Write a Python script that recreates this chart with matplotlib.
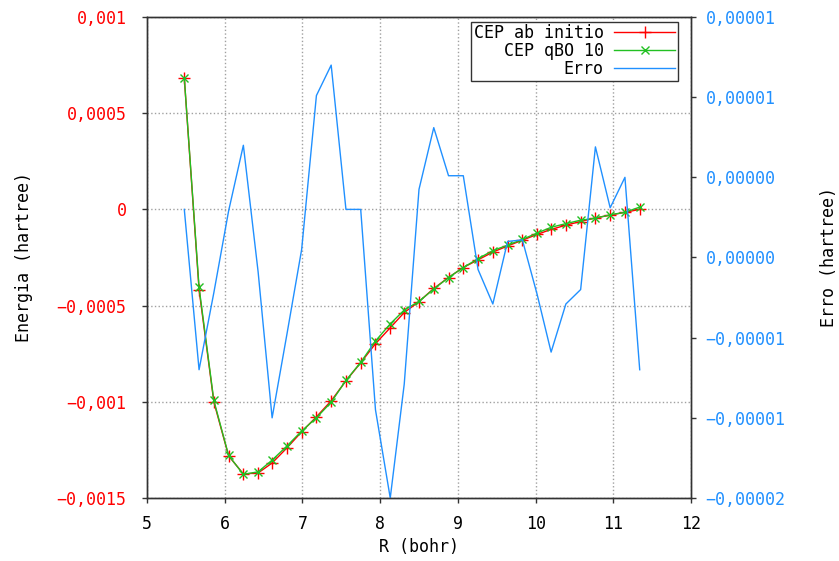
import numpy as np
import matplotlib
matplotlib.use("Agg")
import matplotlib.pyplot as plt

plt.rcParams['font.family'] = ['DejaVu Sans Mono']
plt.rcParams['font.size'] = 12

# R (bohr)
r = [5.48, 5.67, 5.86, 6.05, 6.24, 6.43, 6.61, 6.80, 6.99, 7.18, 7.37, 7.56,
     7.75, 7.94, 8.13, 8.31, 8.50, 8.69, 8.88, 9.07, 9.26, 9.45, 9.64, 9.83,
     10.02, 10.20, 10.39, 10.58, 10.77, 10.96, 11.15, 11.34]

# CEP ab initio (hartree)
e_abinitio = [0.000682, -0.000417, -0.001000, -0.001281, -0.001375, -0.001370,
              -0.001318, -0.001240, -0.001156, -0.001078, -0.000995, -0.000891,
              -0.000797, -0.000698, -0.000615, -0.000536, -0.000479, -0.000411,
              -0.000354, -0.000302, -0.000262, -0.000222, -0.000190, -0.000160,
              -0.000130, -0.000104, -0.000082, -0.000063, -0.000044, -0.000030,
              -0.000015, 0.0]

# CEP qBO 10 (hartree)
e_qbo = [0.000684, -0.000405, -0.000993, -0.001279, -0.001377, -0.001364,
         -0.001303, -0.001230, -0.001152, -0.001083, -0.001002, -0.000889,
         -0.000795, -0.000684, -0.000595, -0.000523, -0.000478, -0.000414,
         -0.000354, -0.000302, -0.000256, -0.000214, -0.000186, -0.000156,
         -0.000123, -0.000093, -0.000074, -0.000056, -0.000046, -0.000028,
         -0.000015, 0.000012]

# Erro (hartree)
erro = [-2.0e-6, -1.2e-5, -7.2e-6, -2.1e-6, 2.0e-6, -5.9e-6, -1.5e-5, -9.8e-6,
        -4.5e-6, 5.1e-6, 7.0e-6, -2.0e-6, -2.0e-6, -1.45e-5, -2.0e-5, -1.29e-5,
        -0.75e-6, 3.1e-6, 0.1e-6, 0.1e-6, -5.75e-6, -7.9e-6, -4.0e-6, -3.9e-6,
        -7.3e-6, -1.09e-5, -7.9e-6, -7.0e-6, 1.9e-6, -1.9e-6, 0.0, -1.2e-5]

xticks = [5, 6, 7, 8, 9, 10, 11, 12]
yticks_left = [-0.0015, -0.001, -0.0005, 0, 0.0005, 0.001]
ylabels_left = ['\u22120,0015', '\u22120,001', '\u22120,0005', '0', '0,0005', '0,001']
yticks_right = [-2e-5, -1.5e-5, -1e-5, -5e-6, 0, 5e-6, 1e-5]
ylabels_right = ['\u22120,00002', '\u22120,00001', '\u22120,00001', '0,00000',
                 '0,00000', '0,00001', '0,00001']

red = '#ff0000'
green = '#22c022'
blue = '#2090ff'

fig = plt.figure(figsize=(8.39, 5.61), dpi=100)
ax = fig.add_axes([0.1752, 0.1123, 0.6484, 0.8574])
l1, = ax.plot(r, e_abinitio, color=red, lw=1.0, marker='+', ms=8, mew=1.0,
              label='CEP ab initio')
l2, = ax.plot(r, e_qbo, color=green, lw=1.0, marker='x', ms=6, mew=1.0,
              label='CEP qBO 10')
ax.set_xlim(5, 12)
ax.set_ylim(-0.0015, 0.001)
ax.set_xticks(xticks)
ax.set_yticks(yticks_left)
ax.set_yticklabels(ylabels_left)
ax.tick_params(axis='y', colors=red, direction='out', length=3.6, width=1, pad=11)
ax.tick_params(axis='y', color='#333333')
ax.tick_params(axis='x', direction='out', length=3.6, width=1, pad=8.6,
               color='#333333')
ax.grid(True, color='#a0a0a0', linestyle=':', lw=1.0)
ax.set_xlabel('R (bohr)', labelpad=4)
ax.set_ylabel('Energia (hartree)', labelpad=17)

ax2 = ax.twinx()
l3, = ax2.plot(r, erro, color=blue, lw=1.0, label='Erro')
ax2.set_ylim(-2e-5, 1e-5)
ax2.set_yticks(yticks_right)
ax2.set_yticklabels(ylabels_right)
ax2.tick_params(axis='y', colors=blue, direction='out', length=3.6, width=1, pad=7)
ax2.tick_params(axis='y', color='#333333')
ax2.set_ylabel('Erro (hartree)', rotation=90, labelpad=25)

for a in (ax, ax2):
    for s in a.spines.values():
        s.set_color('#333333')
        s.set_linewidth(1.0)

leg = ax2.legend(handles=[l1, l2, l3], loc='upper right',
                 bbox_to_anchor=(0.976, 0.99), borderaxespad=0,
                 markerfirst=False, handlelength=3.7, fancybox=False,
                 framealpha=1, edgecolor='#333333', labelspacing=0.0,
                 borderpad=0.15, handletextpad=0.6, fontsize=12)
leg.get_frame().set_linewidth(1.0)

fig.savefig('out.png', dpi=100)
